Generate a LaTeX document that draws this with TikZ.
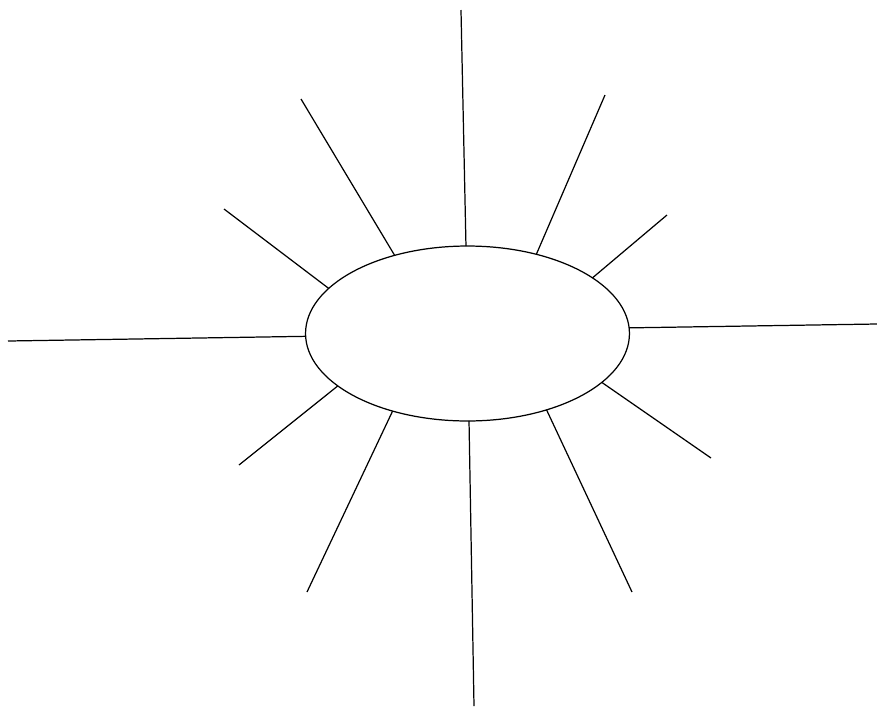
\documentclass[tikz,border=0pt]{standalone}
\usepackage{tikz}
\usetikzlibrary{shapes.geometric}

\begin{document}
\begin{tikzpicture}[
  x={(0.02cm,0)}, y={(0,-0.02cm)},
  hub/.style={draw=black, ellipse, line width=0.7pt, inner sep=0pt, outer sep=0pt,
              minimum width=6.48cm, minimum height=3.5cm},
  ray/.style={draw=black, line width=0.7pt}
]
\useasboundingbox (0,0) rectangle (877,708);

% centre ellipse
\node[hub] (hub) at (467.5,333.5) {};

% outer ends of the rays
\foreach \n/\px/\py in {1/461/10, 2/605/95, 3/667/215, 4/877/324, 5/711/458, 6/632/592,
                        7/474/706, 8/307/592, 9/239/465, 10/8/341, 11/224/209, 12/301/99}{
  \coordinate (tip\n) at (\px,\py);
}

% rays from the ellipse border
\foreach \n/\a in {1/91.3, 2/49.2, 3/24.2, 4/2.5, 5/-20.1, 6/-44.6,
                   7/-89.0, 8/226.1, 9/202.1, 10/181.1, 11/162.9, 12/133.5}{
  \draw[ray] (hub.\a) -- (tip\n);
}

\end{tikzpicture}
\end{document}
